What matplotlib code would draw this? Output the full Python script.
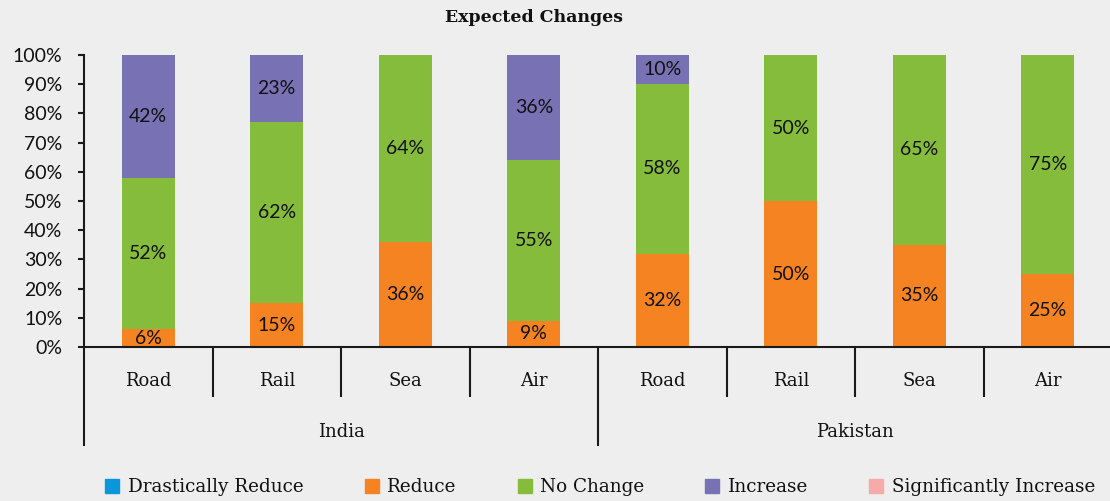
import matplotlib
matplotlib.use("Agg")
import matplotlib.pyplot as plt
from matplotlib.lines import Line2D
from matplotlib.ticker import FixedLocator, PercentFormatter

# Survey data: share of respondents per expected change, by mode and country
groups = ["India", "Pakistan"]
modes = ["Road", "Rail", "Sea", "Air"]
series = ["Drastically Reduce", "Reduce", "No Change", "Increase", "Significantly Increase"]
drastically_reduce = [0, 0, 0, 0, 0, 0, 0, 0]
reduce = [6, 15, 36, 9, 32, 50, 35, 25]
no_change = [52, 62, 64, 55, 58, 50, 65, 75]
increase = [42, 23, 0, 36, 10, 0, 0, 0]
significantly_increase = [0, 0, 0, 0, 0, 0, 0, 0]

colors = ["#0B96DA", "#F58322", "#86BC3C", "#7871B4", "#F7AAAA"]
bg = "#EEEEEE"
ink = "#1A1A1A"

label_font = ["Lato", "DejaVu Sans"]
serif_font = ["DejaVu Serif"]

fig = plt.figure(figsize=(11.10, 5.01), dpi=100, facecolor=bg)
W, H = 1110, 501
ax = fig.add_axes([84 / W, (H - 347) / H, 1028 / W, 292 / H], facecolor=bg)

values = [drastically_reduce, reduce, no_change, increase, significantly_increase]
n = len(reduce)
xs = [i + 0.5 for i in range(n)]
bottom = [0] * n
for name, vals, col in zip(series, values, colors):
    ax.bar(xs, vals, width=0.41, bottom=bottom, color=col, label=name, zorder=2)
    for x, b, v in zip(xs, bottom, vals):
        if v > 0:
            ax.text(x, b + v / 2, f"{v}%", ha="center", va="center",
                    fontsize=14, family=label_font, color="#111111", zorder=3)
    bottom = [b + v for b, v in zip(bottom, vals)]

ax.set_xlim(0, n)
ax.set_ylim(0, 100)

# y axis
ax.yaxis.set_major_locator(FixedLocator(range(0, 101, 10)))
ax.yaxis.set_major_formatter(PercentFormatter(decimals=0))
ax.tick_params(axis="y", direction="out", length=4.5, width=1.5, color=ink,
               labelsize=14, pad=11, labelcolor="#111111")
for lbl in ax.get_yticklabels():
    lbl.set_family(label_font)

# x axis: mode labels, with separators drawn as long minor ticks
ax.xaxis.set_major_locator(FixedLocator(xs))
ax.set_xticklabels(modes * len(groups), family=serif_font, fontsize=13, color="#111111")
ax.tick_params(axis="x", which="major", length=0, pad=18)
ax.xaxis.set_minor_locator(FixedLocator([1, 2, 3, 5, 6, 7]))
ax.tick_params(axis="x", which="minor", direction="out", length=36, width=1.5, color=ink)

# group separators spanning both label rows
for gx in [0, 4]:
    ax.plot([gx, gx], [0, -34], color=ink, lw=1.5, clip_on=False, zorder=4,
            solid_capstyle="butt")

# group labels
for gi, g in enumerate(groups):
    ax.text(gi * 4 + 2, -29, g, ha="center", va="center", family=serif_font,
            fontsize=13, color="#111111", clip_on=False)

for side in ["top", "right"]:
    ax.spines[side].set_visible(False)
for side in ["left", "bottom"]:
    ax.spines[side].set_linewidth(1.5)
    ax.spines[side].set_color(ink)
ax.spines["bottom"].set_zorder(4)

fig.text(534 / W, 1 - 17 / H, "Expected Changes", ha="center", va="center",
         family=serif_font, fontweight="bold", fontsize=12.5, color="#111111")

handles = [Line2D([], [], marker="s", linestyle="none", markersize=9.5,
                  markerfacecolor=c, markeredgecolor=c) for c in colors]
leg = fig.legend(handles, series, loc="center", bbox_to_anchor=(600 / W, 1 - 487 / H),
                 ncol=5, frameon=False, handlelength=0.8, handletextpad=0.45,
                 columnspacing=3.3, prop={"family": serif_font, "size": 13.2})
for t in leg.get_texts():
    t.set_color("#111111")

fig.savefig("out.png", dpi=100, facecolor=bg)
